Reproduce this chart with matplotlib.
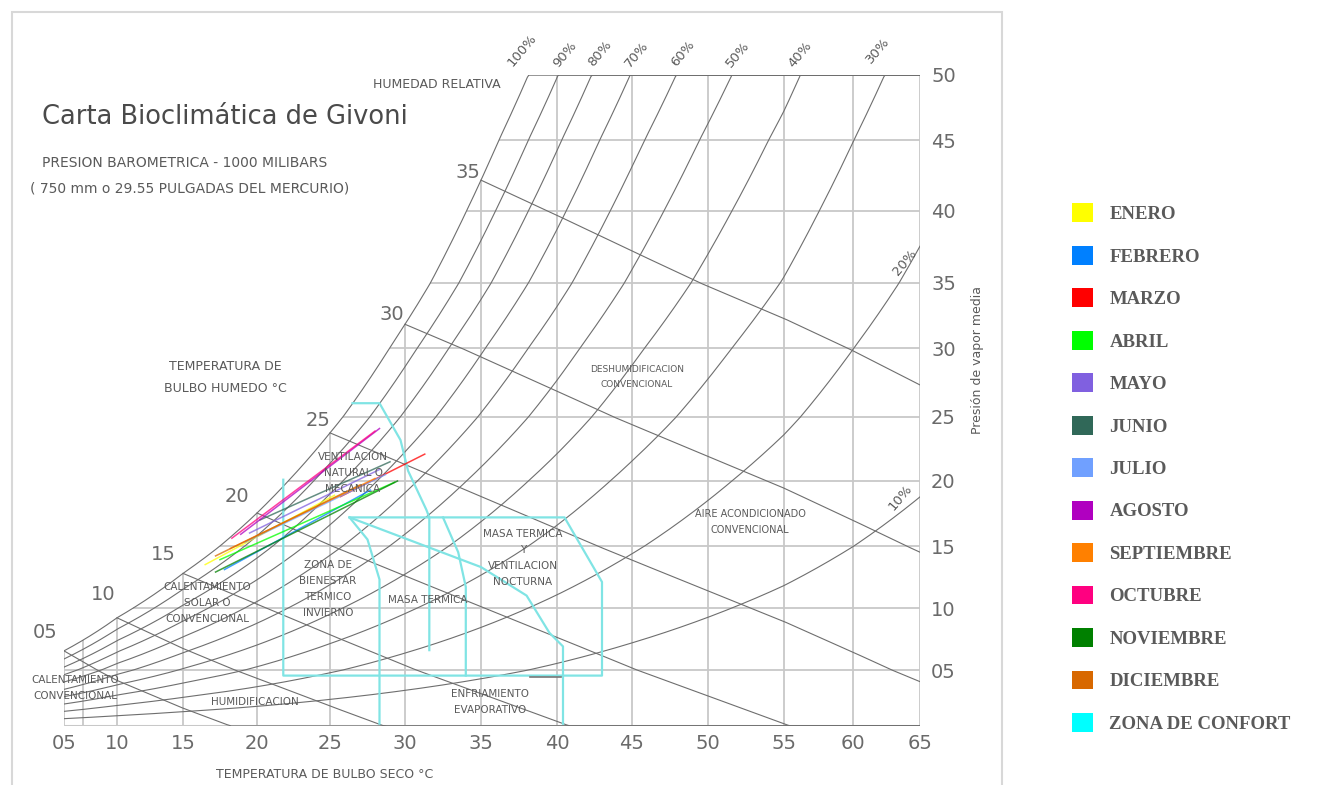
import numpy as np
import matplotlib.pyplot as plt
from matplotlib.patches import Patch, Rectangle
from matplotlib.font_manager import FontProperties

W, H = 1318, 785

# --- scale calibration of the sheet (value -> pixel) ---
t_ticks = [5, 10, 15, 20, 25, 30, 35, 40, 45, 50, 55, 60, 65]
t_pos = [64, 117, 183, 257, 330, 405, 481, 557, 632, 708, 784, 853, 920]
e_ticks = [0, 5, 10, 15, 20, 25, 30, 35, 40, 45, 50]
e_pos = [726, 670, 608, 546, 481, 417, 348, 283, 211, 140, 75]

# --- chart content ---
rh_levels = [1.0, 0.9, 0.8, 0.7, 0.6, 0.5, 0.4, 0.3, 0.2, 0.1]
rh_labels = ['100%', '90%', '80%', '70%', '60%', '50%', '40%', '30%', '20%', '10%']
wet_bulb = [5, 10, 15, 20, 25, 30, 35]
wet_labels = ['05', '10', '15', '20', '25', '30', '35']
dry_grid = [5, 6.8, 10, 15, 20, 25, 30, 35, 40, 45, 50, 55, 60]
vap_grid = [5, 10, 15, 20, 25, 30, 35, 40, 45, 50]
x_labels = ['05', '10', '15', '20', '25', '30', '35', '40', '45', '50', '55', '60', '65']
y_labels = ['05', '10', '15', '20', '25', '30', '35', '40', '45', '50']

months = ['ENERO', 'FEBRERO', 'MARZO', 'ABRIL', 'MAYO', 'JUNIO', 'JULIO',
          'AGOSTO', 'SEPTIEMBRE', 'OCTUBRE', 'NOVIEMBRE', 'DICIEMBRE']
month_colors = ['#ffff00', '#0080ff', '#ff0000', '#00ff00', '#8060e0', '#306858',
                '#70a0ff', '#b000c0', '#ff8000', '#ff0080', '#008000', '#d86800']
# monthly min / max conditions (dry bulb degC, vapour pressure mmHg)
t_min = [16.5, 17.8, 25.7, 17.5, 19.5, 20.2, 19.2, 18.9, 18.2, 18.3, 17.2, 17.2]
e_min = [13.5, 13.1, 18.8, 13.9, 16.0, 17.0, 15.3, 15.9, 14.8, 15.6, 12.9, 14.2]
t_max = [25.3, 27.7, 31.3, 29.3, 28.3, 29.0, 28.7, 28.3, 28.0, 28.0, 29.5, 27.0]
e_max = [18.9, 19.3, 22.1, 19.9, 20.9, 21.5, 20.5, 24.1, 20.2, 23.9, 20.0, 19.7]

comfort_color = '#00ffff'
# zone boundaries (dry bulb, vapour pressure)
zone_t = [
    [21.8, 21.8, 43.0, 43.0, 40.5, 26.3],
    [26.5, 28.3, 29.7, 30.2, 31.4, 31.6, 31.6],
    [32.5, 33.5, 34.0, 34.0],
    [26.3, 27.5, 28.3, 28.3],
    [26.3, 35.0, 38.0, 39.5, 40.4, 40.4],
]
zone_e = [
    [20.1, 4.5, 4.5, 12.1, 17.2, 17.2],
    [26.0, 26.0, 23.2, 20.8, 17.8, 17.2, 6.6],
    [17.2, 14.5, 11.7, 4.5],
    [17.2, 15.5, 12.3, 0.2],
    [17.2, 13.3, 11.0, 8.0, 6.9, 0.2],
]
# short dark segment on the evaporative cooling limit
evap_t = [38.2, 40.3]
evap_e = [4.4, 4.4]


def t_fwd(t):
    return np.interp(t, t_ticks, t_pos)


def t_inv(p):
    return np.interp(p, t_pos, t_ticks)


def e_fwd(e):
    return -np.interp(e, e_ticks, e_pos)


def e_inv(p):
    return np.interp(-np.asarray(p), e_pos[::-1], e_ticks[::-1])


def e_sat(t):
    # saturation vapour pressure, mmHg
    return 7.50062 * 0.61078 * np.exp(17.27 * t / (t + 237.3))


def t_sat(e):
    a = np.log(e / 7.50062 / 0.61078)
    return 237.3 * a / (17.27 - a)


PSY = 0.495  # psychrometric slope, mmHg per degC at 750 mmHg

grid_c = '#c8c8c8'
curve_c = '#6e6e6e'
text_c = '#5a5a5a'
narrow = ['Liberation Sans Narrow', 'DejaVu Sans']

fig = plt.figure(figsize=(W / 100, H / 100), dpi=100)
ax = fig.add_axes([64 / W, 1 - 726 / H, 856 / W, 651 / H])
ax.set_xscale('function', functions=(t_fwd, t_inv))
ax.set_yscale('function', functions=(e_fwd, e_inv))
ax.set_xlim(5, 65)
ax.set_ylim(0, 50)
for s in ax.spines.values():
    s.set_visible(False)

# straight grid
for t in dry_grid:
    ax.vlines(t, 0, min(e_sat(t), 50), color=grid_c, lw=1.3)
ax.vlines(65, 0, 50, color=grid_c, lw=1.3)
for e in vap_grid:
    ax.hlines(e, t_sat(e), 65, color=grid_c, lw=1.3)
ax.hlines(0, 5, 65, color=grid_c, lw=2.2)

# relative humidity curves
T = np.linspace(5, 65, 600)
for rh in rh_levels:
    ax.plot(T, rh * e_sat(T), color=curve_c, lw=0.8)

# wet bulb lines
for tw in wet_bulb:
    tt = np.linspace(tw, 65, 200)
    ax.plot(tt, e_sat(tw) - PSY * (tt - tw), color=curve_c, lw=0.8)

# zones
for zt, ze in zip(zone_t, zone_e):
    ax.plot(zt, ze, color='#80e4e4', lw=1.6)
ax.plot(evap_t, evap_e, color='#777777', lw=1.2)

# months
for i in range(len(months)):
    ax.plot([t_min[i], t_max[i]], [e_min[i], e_max[i]],
            color=month_colors[i], lw=1.1, alpha=0.75)

ax.set_xticks(t_ticks, x_labels)
ax.yaxis.tick_right()
ax.set_yticks(vap_grid, y_labels)
ax.tick_params(length=0, labelsize=14, labelcolor='#6a6a6a')
ax.tick_params(axis='x', pad=6)
ax.tick_params(axis='y', pad=8)


def put(x, y, s, size=8, **kw):
    kw.setdefault('ha', 'center')
    kw.setdefault('va', 'center')
    kw.setdefault('color', text_c)
    kw.setdefault('family', narrow)
    fig.text(x / W, 1 - y / H, s, fontsize=size, **kw)


# frame
fig.add_artist(Rectangle((12 / W, -0.05), 990 / W, 1.05 - 12 / H,
                         transform=fig.transFigure, fill=False,
                         edgecolor='#d8d8d8', lw=1.5))

put(42, 117, 'Carta Bioclimática de Givoni', size=18.5, ha='left', family='DejaVu Sans', color='#4a4a4a')
put(42, 163, 'PRESION BAROMETRICA - 1000 MILIBARS', size=10, ha='left')
put(30, 188, '( 750 mm o 29.55 PULGADAS DEL MERCURIO)', size=10, ha='left')
put(437, 85, 'HUMEDAD RELATIVA', size=9)
put(225, 377, 'TEMPERATURA DE\nBULBO HUMEDO °C', size=9, linespacing=1.9)
put(325, 775, 'TEMPERATURA DE BULBO SECO °C', size=9)
put(978, 360, 'Presión de vapor media', size=9, rotation=90)

zone_txt = [
    (637, 377, 'DESHUMIDIFICACION\nCONVENCIONAL', 6.5),
    (750, 522, 'AIRE ACONDICIONADO\nCONVENCIONAL', 7),
    (523, 558, 'MASA TERMICA\nY\nVENTILACION\nNOCTURNA', 7.5),
    (428, 600, 'MASA TERMICA', 7.5),
    (490, 702, 'ENFRIAMIENTO\nEVAPORATIVO', 7.5),
    (255, 702, 'HUMIDIFICACION', 7.5),
    (75, 688, 'CALENTAMIENTO\nCONVENCIONAL', 7.5),
    (207, 603, 'CALENTAMIENTO\nSOLAR O\nCONVENCIONAL', 7.5),
    (328, 589, 'ZONA DE\nBIENESTAR\nTERMICO\nINVIERNO', 7.5),
    (353, 473, 'VENTILACION\nNATURAL O\nMECANICA', 7.5),
]
for x, y, s, sz in zone_txt:
    put(x, y, s, size=sz, linespacing=1.75)

# wet bulb labels
for (x, y), lab in zip([(45, 632), (103, 595), (163, 555), (237, 497), (318, 420), (392, 315), (468, 172)],
                       wet_labels):
    put(x, y, lab, size=14, family='DejaVu Sans', color='#6a6a6a')

# relative humidity labels
for (x, y), lab in zip([(522, 50), (565, 54), (600, 53), (637, 54), (683, 53), (738, 54),
                        (800, 54), (878, 50), (905, 262), (900, 497)], rh_labels):
    put(x, y, lab, size=9.5, rotation=50)

handles = [Patch(facecolor=c, edgecolor='none', label=m) for m, c in zip(months, month_colors)]
handles.append(Patch(facecolor=comfort_color, edgecolor='none', label='ZONA DE CONFORT'))
fig.legend(handles=handles, loc='upper left', bbox_to_anchor=(1064 / W, 1 - 196 / H),
           frameon=False, handlelength=1.17, handleheight=1.17, labelspacing=1.21,
           handletextpad=0.85, borderaxespad=0, labelcolor='#5a5a5a',
           prop=FontProperties(family='Liberation Serif', weight='bold', size=13.5))

fig.savefig('out.png', dpi=100)
